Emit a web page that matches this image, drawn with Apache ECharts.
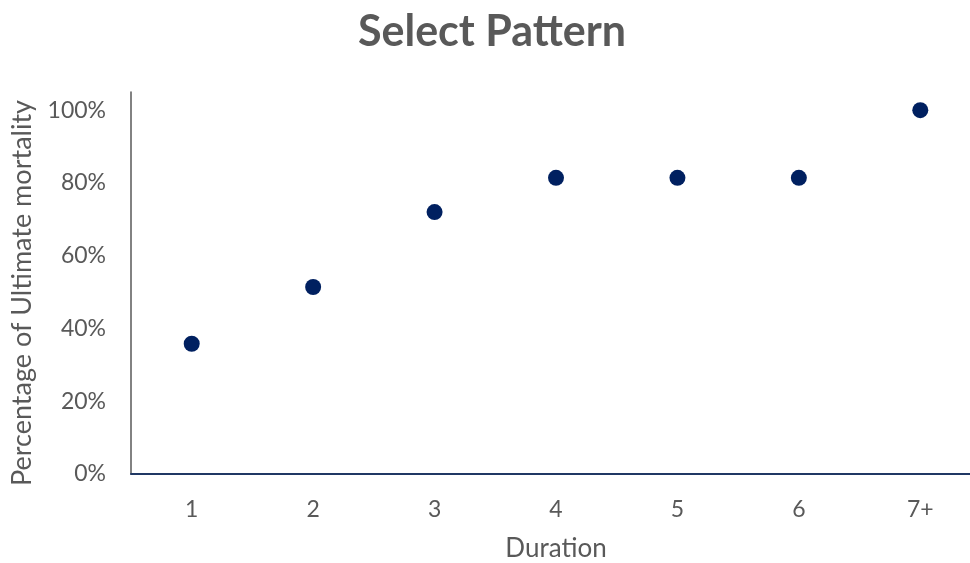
<!DOCTYPE html>
<html>
<head>
<meta charset="utf-8">
<script src="https://cdn.jsdelivr.net/npm/echarts@6/dist/echarts.min.js"></script>
<style>
html,body{margin:0;padding:0;background:#fff;}
#chart{width:970px;height:563px;}
</style>
</head>
<body>
<div id="chart"></div>
<script>
var categories = ['1', '2', '3', '4', '5', '6', '7+'];
var values = [0.358, 0.514, 0.72, 0.814, 0.814, 0.814, 1.0];
var yTicks = [0, 0.2, 0.4, 0.6, 0.8, 1.0];

var chart = echarts.init(document.getElementById('chart'), null, {renderer: 'canvas'});
var font = 'Lato, "Open Sans", sans-serif';
chart.setOption({
  animation: false,
  backgroundColor: '#ffffff',
  title: {
    text: 'Select Pattern',
    left: 487,
    textAlign: 'center',
    top: 6,
    textStyle: {fontFamily: font, fontSize: 43, fontWeight: 'bold', color: '#595959'}
  },
  grid: {left: 131, right: -11, top: 92, bottom: 89, containLabel: false, outerBoundsMode: 'none'},
  xAxis: {
    type: 'category',
    data: categories,
    boundaryGap: true,
    name: 'Duration',
    nameLocation: 'middle',
    nameGap: 62,
    nameTextStyle: {fontFamily: font, fontSize: 26, color: '#595959'},
    axisLine: {show: true, lineStyle: {color: '#203864', width: 2}},
    axisTick: {show: false},
    axisLabel: {fontFamily: font, fontSize: 23, color: '#595959', margin: 24},
    splitLine: {show: false}
  },
  yAxis: {
    type: 'value',
    min: 0,
    max: 1.05,
    interval: 0.2,
    name: 'Percentage of Ultimate mortality',
    nameLocation: 'middle',
    nameGap: 95,
    nameTextStyle: {fontFamily: font, fontSize: 27, color: '#595959', padding: [0, 20, 0, 0]},
    axisLine: {show: true, lineStyle: {color: '#595959', width: 1.5}},
    axisTick: {show: false},
    splitLine: {show: false},
    axisLabel: {
      fontFamily: font, fontSize: 23, color: '#595959', margin: 25,
      formatter: function (v) {
        for (var i = 0; i < yTicks.length; i++) {
          if (Math.abs(v - yTicks[i]) < 1e-6) return Math.round(yTicks[i] * 100) + '%';
        }
        return '';
      }
    }
  },
  series: [{
    type: 'scatter',
    data: values,
    symbol: 'circle',
    symbolSize: 16,
    itemStyle: {color: '#002060', opacity: 1}
  }]
});
</script>
</body>
</html>
